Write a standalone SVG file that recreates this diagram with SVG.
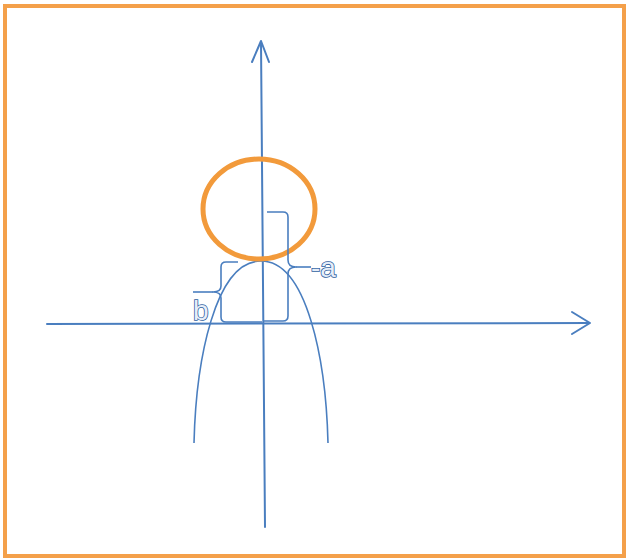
<svg xmlns="http://www.w3.org/2000/svg" width="627" height="559" viewBox="0 0 627 559">
<style>
.ax{fill:none;stroke:#4a7ebf;stroke-width:2;stroke-linecap:round;stroke-linejoin:round}
.cv{fill:none;stroke:#4a7ebf;stroke-width:1.6}
.br{fill:none;stroke:#4a7ebf;stroke-width:1.6;stroke-linejoin:round}
.lbl{font-family:"Liberation Sans",Arial,sans-serif;font-size:28px;fill:#e6eef9;stroke:#2f5f9f;stroke-width:1.6;paint-order:stroke}
</style>
<rect id="frame" x="5" y="6" width="619" height="550" fill="#fff" stroke="#f4a04a" stroke-width="4"/>
<g id="connectors">
<line class="ax" x1="265" y1="527" x2="261" y2="42"/>
<polyline class="ax" points="252,62 261,41 269,62" stroke-width="2.5"/>
<line class="ax" x1="47" y1="324" x2="589" y2="323"/>
<polyline class="ax" points="572,312 590,323 572,334" stroke-width="2.5"/>
</g>
<g id="parabola">
<path class="cv" d="M194,443 C196,360 215,261 261,261 C307,261 326,360 328,443"/>
</g>
<g id="circle">
<ellipse cx="259" cy="209" rx="56" ry="50" fill="none" stroke="#f29a3b" stroke-width="5"/>
</g>
<g id="brace-a">
<path class="br" d="M267,212 H283 Q288,212 288,217 V260 Q288,267 296,267 Q288,267 288,274 V316 Q288,321 283,321 H263"/>
<line class="br" x1="296" y1="267" x2="311" y2="267"/>
<text class="lbl" x="311" y="277">-a</text>
</g>
<g id="brace-b">
<path class="br" d="M238,262 H226 Q221,262 221,267 V286 Q221,292 213,292 Q221,292 221,298 V317 Q221,322 226,322 H262"/>
<line class="br" x1="213" y1="292" x2="193" y2="292"/>
<text class="lbl" x="193" y="320">b</text>
</g>
</svg>
